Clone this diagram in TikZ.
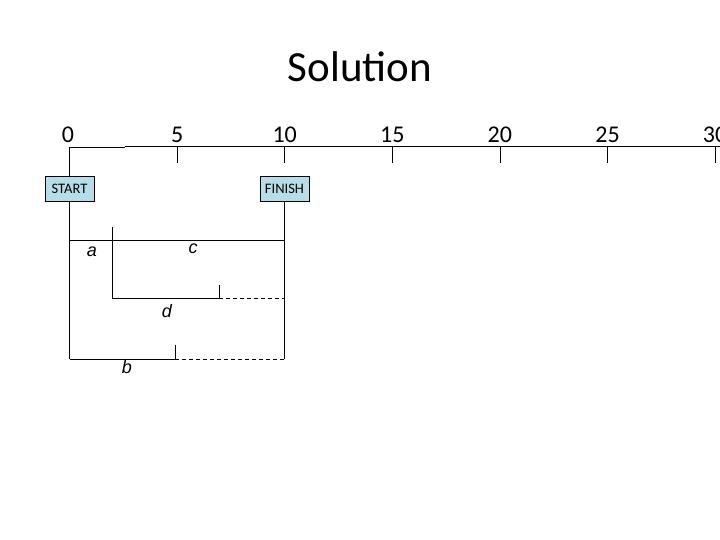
\documentclass[tikz,border=0pt]{standalone}
\usepackage{fontspec}
\setmainfont{Carlito}
\newfontfamily\arialfont{Liberation Sans}
\definecolor{boxblue}{HTML}{B7DDE8}
\begin{document}
\begin{tikzpicture}[x=1pt,y=-1pt,
  ln/.style={line width=0.8pt,black},
  dsh/.style={line width=0.8pt,black,dash pattern=on 4pt off 3pt},
  evbox/.style={draw=black,line width=0.6pt,fill=boxblue,minimum width=49pt,minimum height=25pt,inner sep=0pt,font=\fontsize{14.5}{16}\selectfont},
  num/.style={font=\fontsize{24}{26}\selectfont,anchor=base,inner sep=0pt},
  act/.style={font=\arialfont\itshape\fontsize{18}{20}\selectfont,inner sep=0pt}]
\useasboundingbox (0,0) rectangle (720,540);
\node[font=\fontsize{43}{48}\selectfont] (title) at (360,67) {Solution};
% axis
\coordinate (ax0) at (69.5,147.3);
\coordinate (axm) at (125,147.3);
\coordinate (axm2) at (125,146.3);
\coordinate (axend) at (722,146.3);
\draw[ln] (ax0) -- (axm);
\draw[ln] (axm2) -- (axend);
\foreach \k/\lab in {1/5,2/10,3/15,4/20,5/25,6/30}{
  \coordinate (t\k) at ({69.5+107.6*\k},146.3);
  \coordinate (tb\k) at ({69.5+107.6*\k},163);
  \draw[ln] (t\k) -- (tb\k);
  \node[num] (n\k) at ({69.5+107.6*\k},143) {\lab};
}
\node[num] (n0) at (68,143) {0};
% events
\node[evbox] (start) at (69.5,189) {START};
\node[evbox] (finish) at (284.5,189) {FINISH};
\draw[ln] (ax0) -- (start.north);
% coordinates
\coordinate (sb) at (69.5,359);
\coordinate (cl) at (69.5,240);
\coordinate (cr) at (284.5,240);
\coordinate (fb) at (284.5,359);
\coordinate (atop) at (112.3,227);
\coordinate (abot) at (112.3,298.3);
\coordinate (dend) at (219.3,298.3);
\coordinate (dtk) at (219.3,285);
\coordinate (dfin) at (284.5,298.3);
\coordinate (bend) at (175.3,359);
\coordinate (btk) at (175.3,345);
\draw[ln] (start.south) -- (sb);
\draw[ln] (finish.south) -- (fb);
\draw[ln] (cl) -- (cr);
\draw[ln] (atop) -- (abot) -- (dend);
\draw[ln] (dtk) -- (dend);
\draw[dsh] (dend) -- (dfin);
\draw[ln] (sb) -- (bend);
\draw[ln] (btk) -- (bend);
\draw[dsh] (bend) -- (fb);
% labels
\node[act] (la) at (92,252) {a};
\node[act] (lc) at (193,249) {c};
\node[act] (ld) at (167,311) {d};
\node[act] (lb) at (127,367) {b};
\end{tikzpicture}
\end{document}
